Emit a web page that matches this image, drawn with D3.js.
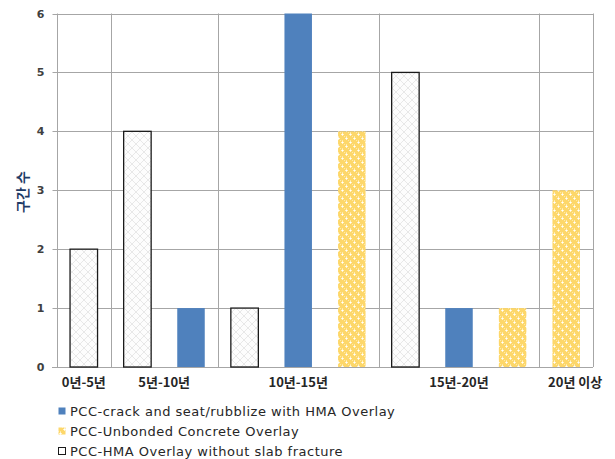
<!DOCTYPE html>
<html>
<head>
<meta charset="utf-8">
<script src="https://cdn.jsdelivr.net/npm/d3@7"></script>
<style>
  html, body { margin: 0; padding: 0; background: #fff; }
  svg { display: block; }
</style>
</head>
<body>
<svg id="chart" width="615" height="459"></svg>
<script>
// Age groups along the x axis
const groups = ["0년-5년", "5년-10년", "10년-15년", "15년-20년", "20년 이상"];

// Section counts per age group for each overlay type (null = no bar)
const hmaNoFracture = [2, 4, 1, 5, null];
const crackSeat     = [null, 1, 6, 1, null];
const unbonded      = [null, null, 4, 1, 3];

const seriesNames = [
  "PCC-crack and seat/rubblize with HMA Overlay",
  "PCC-Unbonded Concrete Overlay",
  "PCC-HMA Overlay without slab fracture"
];

const yTicks = [0, 1, 2, 3, 4, 5, 6];
const yTitle = "구간 수";

// Bars sit side by side inside each group in this order
const barOrder = [
  { key: "hma", values: hmaNoFracture },
  { key: "crack", values: crackSeat },
  { key: "unbonded", values: unbonded }
];

const slots = [];
groups.forEach((g, gi) => {
  barOrder.forEach(s => {
    const v = s.values[gi];
    if (v != null) slots.push({ group: g, gi, key: s.key, value: v });
  });
});
slots.forEach((d, i) => d.i = i);

const svg = d3.select("#chart");
const plotLeft = 57, plotRight = 593, plotTop = 13.5, plotBottom = 367;

const defs = svg.append("defs");

// faint cross-hatch for the unfractured HMA overlay bars
const hatch = defs.append("pattern")
  .attr("id", "hatch").attr("patternUnits", "userSpaceOnUse")
  .attr("width", 8).attr("height", 8);
hatch.append("rect").attr("width", 8).attr("height", 8).attr("fill", "#fdfdfd");
hatch.append("path").attr("d", "M0,0 L8,8 M-1,7 L1,9 M7,-1 L9,1 M8,0 L0,8 M-1,1 L1,-1 M7,9 L9,7")
  .attr("stroke", "#e2e2e2").attr("stroke-width", 0.8).attr("fill", "none");

// dotted yellow texture for the unbonded concrete bars
const dots = defs.append("pattern")
  .attr("id", "dots").attr("patternUnits", "userSpaceOnUse")
  .attr("width", 8).attr("height", 8);
dots.append("rect").attr("width", 8).attr("height", 8).attr("fill", "#fdd76a");
[[0,0],[2,0],[4,4],[6,4],[1,2],[5,6],[3,2],[7,6]].forEach(([px, py]) =>
  dots.append("rect").attr("x", px).attr("y", py).attr("width", 1).attr("height", 1).attr("fill", "#ffe9a8"));
[[2,1],[2,3],[1,2],[3,2],[6,5],[6,7],[5,6],[7,6]].forEach(([px, py]) =>
  dots.append("rect").attr("x", px).attr("y", py).attr("width", 1).attr("height", 1).attr("fill", "#fff3cc"));
[[2,2],[6,6]].forEach(([px, py]) =>
  dots.append("rect").attr("x", px).attr("y", py).attr("width", 1).attr("height", 1).attr("fill", "#ffffff"));

const pad = 0.487;
const x = d3.scaleBand().domain(slots.map(d => d.i))
  .range([plotLeft, plotRight]).paddingInner(pad).paddingOuter(pad / 2);
const y = d3.scaleLinear().domain([0, 6]).range([plotBottom, plotTop]);

const gridColor = "#a6a6a6";

// horizontal gridlines
svg.append("g").selectAll("line").data(yTicks.filter(t => t > 0)).join("line")
  .attr("x1", plotLeft).attr("x2", plotRight)
  .attr("y1", d => Math.round(y(d)) + 0.5).attr("y2", d => Math.round(y(d)) + 0.5)
  .attr("stroke", gridColor).attr("stroke-width", 1);

// vertical separators at group boundaries
const bounds = [];
let count = 0;
groups.forEach((g, gi) => {
  const n = slots.filter(d => d.gi === gi).length;
  bounds.push({ g, start: count, end: count + n });
  count += n;
});
const edge = k => plotLeft + k * x.step();
svg.append("g").selectAll("line").data(bounds.slice(1).map(b => b.start).concat([count])).join("line")
  .attr("x1", d => Math.round(edge(d)) + 0.5).attr("x2", d => Math.round(edge(d)) + 0.5)
  .attr("y1", plotTop).attr("y2", plotBottom)
  .attr("stroke", gridColor).attr("stroke-width", 1);

// y axis
const yAxis = svg.append("g").attr("transform", `translate(${plotLeft + 0.5},0)`)
  .call(d3.axisLeft(y).tickValues(yTicks).tickSize(5).tickPadding(8).tickFormat(d3.format("d")));
yAxis.select(".domain").attr("stroke", gridColor).attr("d", `M0,${plotTop}V${plotBottom}`);
yAxis.selectAll(".tick line").attr("stroke", gridColor);
yAxis.selectAll(".tick").attr("transform", d => `translate(0,${Math.round(y(d)) + 0.5})`);
yAxis.selectAll(".tick text")
  .attr("fill", "#404040").attr("font-family", "DejaVu Sans, sans-serif")
  .attr("font-weight", "bold").attr("font-size", 11);

// x baseline
svg.append("line")
  .attr("x1", plotLeft - 5).attr("x2", plotRight)
  .attr("y1", Math.round(plotBottom) + 0.5).attr("y2", Math.round(plotBottom) + 0.5)
  .attr("stroke", gridColor).attr("stroke-width", 1);

// bars
const fills = { hma: "url(#hatch)", crack: "#4f81bd", unbonded: "url(#dots)" };
svg.append("g").selectAll("rect").data(slots).join("rect")
  .attr("x", d => x(d.i))
  .attr("y", d => y(d.value))
  .attr("width", x.bandwidth())
  .attr("height", d => y(0) - y(d.value))
  .attr("fill", d => fills[d.key])
  .attr("stroke", d => d.key === "hma" ? "#1a1a1a" : "none")
  .attr("stroke-width", 1.3);

// group labels
svg.append("g").selectAll("text").data(bounds).join("text")
  .attr("x", d => (edge(d.start) + edge(d.end)) / 2 + (d.end - d.start === 1 && d.start > 0 ? 9 : 0))
  .attr("y", 387)
  .attr("text-anchor", "middle")
  .attr("font-family", "Noto Sans CJK KR, sans-serif")
  .attr("font-weight", "bold").attr("font-size", 13)
  .attr("fill", "#262626")
  .text(d => d.g);

// y axis title
svg.append("text")
  .attr("transform", "translate(28,192) rotate(-90)")
  .attr("text-anchor", "middle")
  .attr("font-family", "Noto Sans CJK KR, sans-serif")
  .attr("font-weight", "bold").attr("font-size", 14)
  .attr("fill", "#1f3b66")
  .text(yTitle);

// legend
const legendFills = ["#4f81bd", "url(#dots)", "#ffffff"];
const legend = svg.append("g").selectAll("g").data(seriesNames).join("g")
  .attr("transform", (d, i) => `translate(58,${411 + i * 20})`);
legend.append("rect")
  .attr("x", 0.5).attr("y", -3.5).attr("width", 7).attr("height", 7)
  .attr("fill", (d, i) => legendFills[i])
  .attr("stroke", (d, i) => i === 2 ? "#1a1a1a" : "none").attr("stroke-width", 1);
legend.append("text")
  .attr("x", 12).attr("y", 5)
  .attr("font-family", "DejaVu Sans, sans-serif")
  .attr("font-size", 13)
  .attr("letter-spacing", 0.5)
  .attr("fill", "#262626")
  .text(d => d);
</script>
</body>
</html>
